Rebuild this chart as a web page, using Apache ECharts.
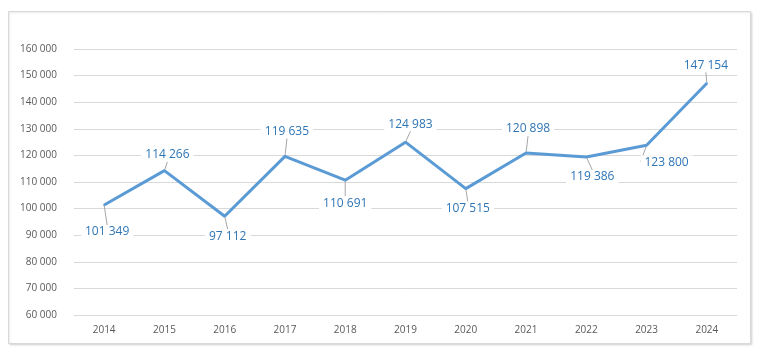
<!DOCTYPE html>
<html>
<head>
<meta charset="utf-8">
<script src="https://cdn.jsdelivr.net/npm/echarts@6/dist/echarts.min.js"></script>
<style>html,body{margin:0;padding:0;background:#fff;}#c{width:760px;height:352px;}</style>
</head>
<body>
<div id="c"></div>
<script>
var categories = ['2014','2015','2016','2017','2018','2019','2020','2021','2022','2023','2024'];
var values = [101349, 114266, 97112, 119635, 110691, 124983, 107515, 120898, 119386, 123800, 147154];
var yTicks = {min: 60000, max: 160000, interval: 10000};

function fmt(v){ return String(v).replace(/\B(?=(\d{3})+(?!\d))/g, ' '); }

// label offsets (dx, dy) from each point
var labelOffsets = [[3,27],[3,-16],[3,20],[2,-25],[0,23],[5,-18],[2,20],[2,-24],[6,20],[20,17],[-1,-18]];

var chart = echarts.init(document.getElementById('c'), null, {renderer:'canvas'});
chart.setOption({
  animation: false,
  backgroundColor: '#fff',
  graphic: [{
    type: 'rect', left: 8, top: 11, z: -1,
    shape: {width: 742, height: 332},
    style: {fill: '#fff', stroke: '#d9d9d9', lineWidth: 1, shadowBlur: 2, shadowColor: 'rgba(0,0,0,0.12)', shadowOffsetX: 1, shadowOffsetY: 1}
  }],
  grid: {left: 74, right: 23, top: 49, bottom: 37},
  xAxis: {
    type: 'category', data: categories, boundaryGap: true,
    axisLine: {show: false}, axisTick: {show: false},
    axisLabel: {color: '#595959', fontSize: 10, fontFamily: 'Open Sans', margin: 10}
  },
  yAxis: {
    type: 'value', min: yTicks.min, max: yTicks.max, interval: yTicks.interval,
    axisLine: {show: false}, axisTick: {show: false},
    axisLabel: {color: '#595959', fontSize: 10, fontFamily: 'Open Sans', margin: 17, formatter: fmt},
    splitLine: {lineStyle: {color: '#d9d9d9', width: 1}}
  },
  series: [{
    type: 'line', data: values,
    symbol: 'circle', symbolSize: 2, showSymbol: true,
    itemStyle: {color: '#5b9bd5'},
    lineStyle: {color: '#5b9bd5', width: 3},
    label: {
      show: true, position: 'inside', color: '#2e75b6', fontSize: 12, fontFamily: 'Open Sans',
      backgroundColor: '#fff', padding: [1, 4],
      formatter: function(p){ return fmt(p.value); }
    },
    labelLine: {show: true, lineStyle: {color: '#a6a6a6', width: 1}},
    labelLayout: function(params){
      var o = labelOffsets[params.dataIndex];
      var r = params.rect;
      return {
        x: r.x + r.width/2 + o[0],
        y: r.y + r.height/2 + o[1],
        align: 'center', verticalAlign: 'middle'
      };
    }
  }]
});
</script>
</body>
</html>
